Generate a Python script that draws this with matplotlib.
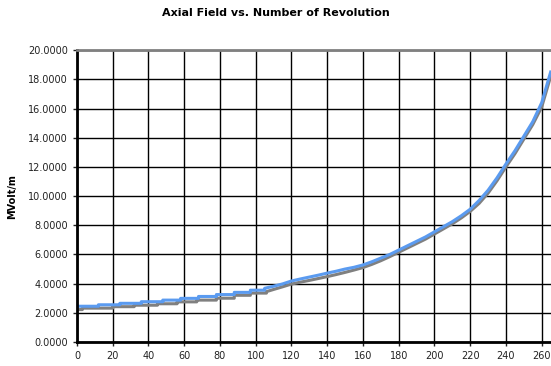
import numpy as np
import matplotlib.pyplot as plt

# corner points of the measured curves (repeated x = step)
rev_gray = [0, 3, 3, 20, 20, 32, 32, 45, 45, 56, 56, 67, 67, 78, 78, 88, 88, 97, 97, 106,
            106, 110, 115, 120, 125, 130, 135, 140, 145, 150, 155, 160, 165, 170, 175,
            180, 185, 190, 195, 200, 205, 210, 215, 220, 225, 230, 235, 240, 245, 250,
            255, 260, 265]
field_gray = [2.22, 2.22, 2.32, 2.32, 2.42, 2.42, 2.52, 2.52, 2.62, 2.62, 2.75, 2.75,
              2.87, 2.87, 3.00, 3.00, 3.20, 3.20, 3.35, 3.35, 3.45, 3.60, 3.78, 3.97,
              4.10, 4.22, 4.35, 4.48, 4.62, 4.77, 4.93, 5.10, 5.32, 5.57, 5.85, 6.15,
              6.45, 6.75, 7.05, 7.40, 7.75, 8.10, 8.50, 8.95, 9.50, 10.20, 11.05, 12.00,
              12.90, 13.90, 14.90, 16.10, 18.20]

rev_blue = [0, 12, 12, 24, 24, 36, 36, 48, 48, 58, 58, 68, 68, 78, 78, 88, 88, 97, 97,
            105, 105, 110, 115, 120, 125, 130, 135, 140, 145, 150, 155, 160, 165, 170,
            175, 180, 185, 190, 195, 200, 205, 210, 215, 220, 225, 230, 235, 240, 245,
            250, 255, 260, 265]
field_blue = [2.45, 2.45, 2.55, 2.55, 2.65, 2.65, 2.76, 2.76, 2.87, 2.87, 2.99, 2.99,
              3.12, 3.12, 3.25, 3.25, 3.40, 3.40, 3.55, 3.55, 3.68, 3.82, 3.98, 4.18,
              4.32, 4.45, 4.58, 4.72, 4.85, 5.00, 5.12, 5.28, 5.50, 5.75, 6.00, 6.30,
              6.60, 6.90, 7.20, 7.55, 7.90, 8.25, 8.65, 9.10, 9.70, 10.40, 11.25, 12.20,
              13.10, 14.10, 15.10, 16.40, 18.50]

fig = plt.figure(figsize=(5.51, 3.66), dpi=100)
ax = fig.add_axes([0.1397, 0.0656, 0.8603, 0.7974])

ax.plot(rev_gray, field_gray, color='#808080', lw=2.2)
ax.plot(rev_blue, field_blue, color='#5b9bf0', lw=2.2)

ax.set_xlim(0, 265.2)
ax.set_ylim(0, 20)
ax.set_xticks(np.arange(0, 261, 20))
ax.set_yticks(np.arange(0, 20.1, 2))
ax.set_yticklabels(['%.4f' % v for v in np.arange(0, 20.1, 2)])
ax.grid(True, color='black', lw=1)
ax.set_axisbelow(True)
ax.tick_params(labelsize=7, length=3, width=1, colors='#222222')

ax.spines['left'].set_linewidth(2)
ax.spines['bottom'].set_linewidth(2)
ax.spines['top'].set_color('#808080')
ax.spines['top'].set_linewidth(2)
ax.spines['right'].set_visible(False)

ax.set_ylabel('MVolt/m', fontsize=7, fontweight='bold', labelpad=8)
fig.text(0.5, 0.965, 'Axial Field vs. Number of Revolution', ha='center', va='center',
         fontsize=8, fontweight='bold')

fig.savefig('out.png', dpi=100)
